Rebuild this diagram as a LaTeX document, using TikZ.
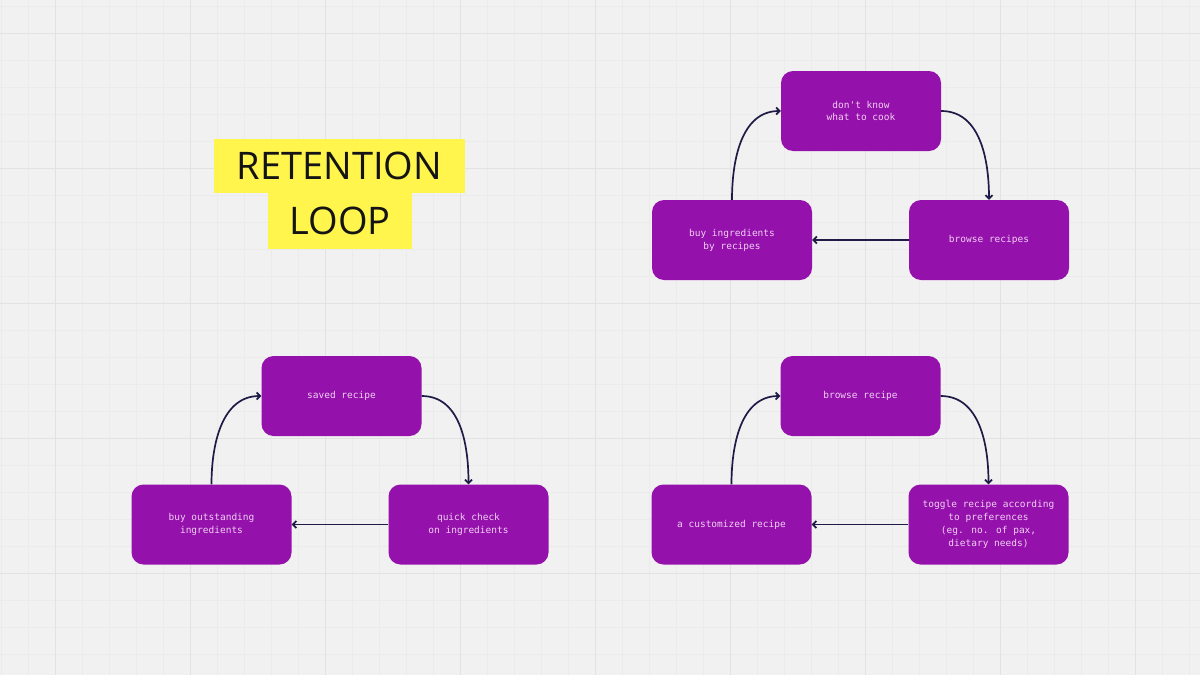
\documentclass[tikz,border=0pt]{standalone}
\usepackage{fontspec}
\usetikzlibrary{arrows.meta}
\newfontfamily\boxfont{DejaVu Sans Mono}
\newfontfamily\titlefont{Open Sans}
\definecolor{bg}{HTML}{F1F1F1}
\definecolor{gridmajor}{HTML}{E2E2E2}
\definecolor{gridminor}{HTML}{EBEBEB}
\definecolor{boxpurple}{HTML}{9511AC}
\definecolor{boxtext}{HTML}{F0D0F2}
\definecolor{arrowcol}{HTML}{1E1B46}
\definecolor{hilite}{HTML}{FFF54C}
\begin{document}
\begin{tikzpicture}[x=1pt,y=-1pt,
  stepbox/.style={rectangle, rounded corners=12pt, fill=boxpurple, minimum width=160pt, minimum height=80pt, text=boxtext, align=center, font=\boxfont\fontsize{9.5}{12.8}\selectfont, inner sep=2pt},
  conn/.style={draw=arrowcol, line width=1.7pt, -{Straight Barb[length=3.5pt,width=7pt]}},
  titlebox/.style={fill=hilite, inner sep=0pt, text height=27pt, text depth=0pt, font=\titlefont\fontsize{38}{40}\selectfont, text=black!92}]
\useasboundingbox (0,0) rectangle (1200,675);
\fill[bg] (0,0) rectangle (1200,675);
% grid
\foreach \k in {0,...,44} \draw[gridminor, line width=0.6pt] ({1+27*\k},0) -- ({1+27*\k},675);
\foreach \k in {0,...,24} \draw[gridminor, line width=0.6pt] (0,{6+27*\k}) -- (1200,{6+27*\k});
\foreach \k in {0,...,8} \draw[gridmajor, line width=1pt] ({55+135*\k},0) -- ({55+135*\k},675);
\foreach \k in {0,...,4} \draw[gridmajor, line width=1pt] (0,{33+135*\k}) -- (1200,{33+135*\k});

% title
\node[titlebox, minimum width=251pt, minimum height=54pt] (t1) at (339.5,166) {RETENTION};
\node[titlebox, minimum width=144pt, minimum height=56pt] (t2) at (340,221) {LOOP};

% loop 1 (top right)
\node[stepbox] (a1) at (861,111) {don't know\\what to cook};
\node[stepbox] (a2) at (989,240) {browse recipes};
\node[stepbox] (a3) at (732,240) {buy ingredients\\by recipes};
\draw[conn] (a1.east) to[out=0,in=90] (a2.north);
\draw[conn] (a2.west) -- (a3.east);
\draw[conn] (a3.north) to[out=90,in=180] (a1.west);

% loop 2 (bottom left)
\node[stepbox] (b1) at (341.5,396) {saved recipe};
\node[stepbox] (b2) at (468.5,524.5) {quick check\\on ingredients};
\node[stepbox] (b3) at (211.5,524.5) {buy outstanding\\ingredients};
\draw[conn] (b1.east) to[out=0,in=90] (b2.north);
\draw[conn] (b2.west) -- (b3.east);
\draw[conn] (b3.north) to[out=90,in=180] (b1.west);

% loop 3 (bottom right)
\node[stepbox] (c1) at (860.5,396) {browse recipe};
\node[stepbox] (c2) at (988.5,524.5) {toggle recipe according\\to preferences\\(eg. no. of pax,\\dietary needs)};
\node[stepbox] (c3) at (731.5,524.5) {a customized recipe};
\draw[conn] (c1.east) to[out=0,in=90] (c2.north);
\draw[conn] (c2.west) -- (c3.east);
\draw[conn] (c3.north) to[out=90,in=180] (c1.west);
\end{tikzpicture}
\end{document}
